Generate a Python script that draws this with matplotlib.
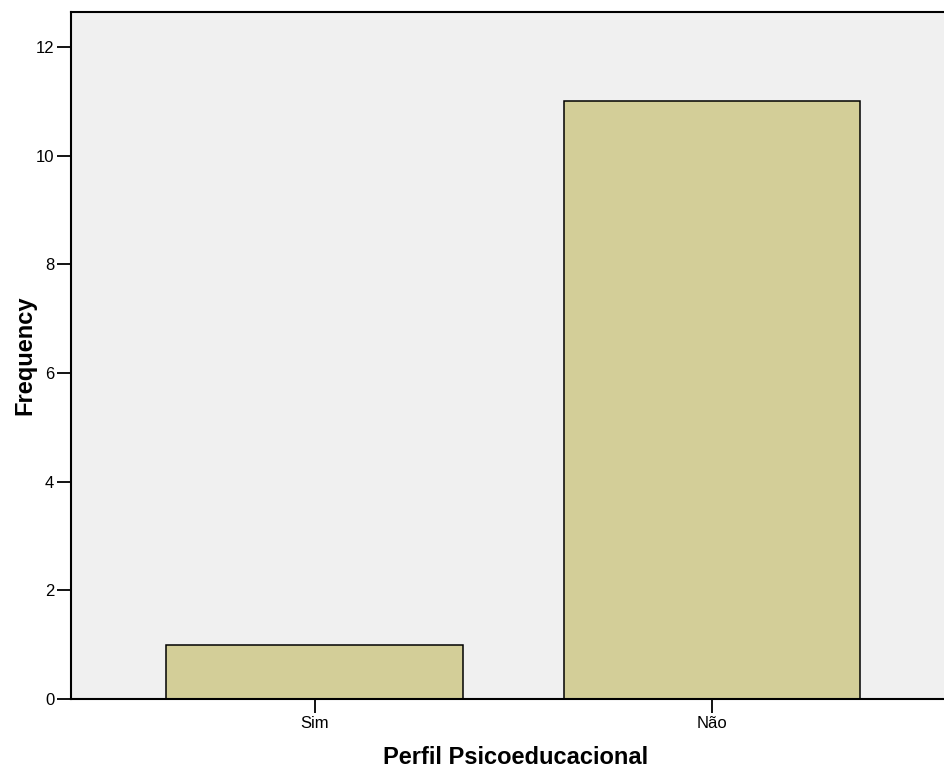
import matplotlib
matplotlib.use('Agg')
import matplotlib.pyplot as plt

categories = ['Sim', 'Não']
frequency = [1, 11]
y_ticks = [0, 2, 4, 6, 8, 10, 12]

plt.rcParams['font.family'] = ['Liberation Sans', 'DejaVu Sans']

fig = plt.figure(figsize=(9.44, 7.71), dpi=100)
ax = fig.add_axes([71 / 944, 1 - 699 / 771, 1 - 71 / 944, (699 - 12) / 771])
ax.set_facecolor('#f0f0f0')

x = range(len(categories))
ax.bar(x, frequency, width=0.747, color='#d3ce98', edgecolor='black', linewidth=1.1, zorder=2)

ax.set_xlim(-0.6126, 1.5836)
ax.set_ylim(0, 12.645)
ax.set_xticks(list(x))
ax.set_xticklabels(categories)
ax.set_yticks(y_ticks)
ax.tick_params(axis='both', direction='out', length=10, width=1.3, labelsize=12, pad=2)

for side in ['left', 'bottom', 'top']:
    ax.spines[side].set_linewidth(1.5)
ax.spines['right'].set_visible(False)

ax.set_xlabel('Perfil Psicoeducacional', fontsize=17, fontweight='bold', va='center')
ax.set_ylabel('Frequency', fontsize=17, fontweight='bold', va='center')
ax.xaxis.set_label_coords((516 - 71) / 873, -(757 - 699) / 687)
ax.yaxis.set_label_coords((25 - 71) / 873, 0.5)

plt.savefig('out.png', dpi=100)
